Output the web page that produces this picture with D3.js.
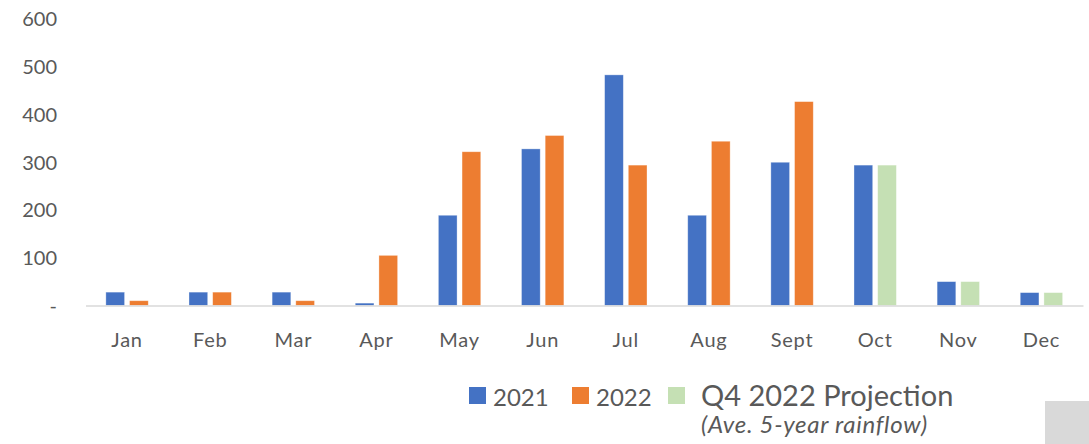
<!DOCTYPE html>
<html>
<head>
<meta charset="utf-8">
<script src="https://cdn.jsdelivr.net/npm/d3@7"></script>
<style>
  html, body { margin: 0; padding: 0; background: #fff; }
  svg { display: block; font-family: "Source Sans Pro", Lato, "Open Sans", sans-serif; }
</style>
</head>
<body>
<svg id="chart" width="1089" height="444"></svg>
<script>
const months = ["Jan","Feb","Mar","Apr","May","Jun","Jul","Aug","Sept","Oct","Nov","Dec"];
const v2021 = [28, 28, 28, 5, 189, 328, 483, 189, 300, 294, 50, 27];
const v2022 = [10, 28, 10, 105, 322, 356, 294, 344, 427, null, null, null];
const projection = [null, null, null, null, null, null, null, null, null, 294, 50, 27];
const yTicks = [0, 100, 200, 300, 400, 500, 600];
const yTickLabels = ["-", "100", "200", "300", "400", "500", "600"];
const legendItems = [
  { key: "2021", color: "#4472C4" },
  { key: "2022", color: "#ED7D31" },
  { key: "Q4 2022 Projection", color: "#C5E0B4" }
];
const legendNote = "(Ave. 5-year rainflow)";

const colors = { "2021": "#4472C4", "2022": "#ED7D31", "proj": "#C5E0B4" };
const textColor = "#595959";

const svg = d3.select("#chart");

const x0 = d3.scaleBand().domain(months).range([85.5, 1083]).paddingInner(0.49).paddingOuter(0.245);
const x1 = d3.scaleBand().domain([0, 1]).range([0, x0.bandwidth()]).paddingInner(0.21);
const y = d3.scaleLinear().domain([0, 600]).range([305.5, 19]);

// Y axis labels
const yAxis = d3.axisLeft(y).tickValues(yTicks).tickSize(0).tickPadding(0)
  .tickFormat((d, i) => yTickLabels[i]);
const yg = svg.append("g").attr("transform", "translate(57,0.5)").call(yAxis);
yg.select(".domain").remove();
yg.selectAll("text").attr("fill", textColor).style("font-size", "20px")
  .style("font-family", "Lato, sans-serif");

// Bars
const rows = months.map((m, i) => ({
  month: m,
  bars: [
    { slot: 0, value: v2021[i], color: colors["2021"] },
    projection[i] != null
      ? { slot: 1, value: projection[i], color: colors.proj }
      : { slot: 1, value: v2022[i], color: colors["2022"] }
  ].filter(b => b.value != null)
}));

const groups = svg.append("g").selectAll("g").data(rows).join("g")
  .attr("transform", d => `translate(${x0(d.month)},0)`);
groups.selectAll("rect").data(d => d.bars).join("rect")
  .attr("x", d => x1(d.slot))
  .attr("width", x1.bandwidth())
  .attr("y", d => y(d.value))
  .attr("height", d => y(0) - y(d.value))
  .attr("fill", d => d.color)
  .attr("stroke", "#fff").attr("stroke-opacity", 0.45).attr("stroke-width", 0.75);

// X axis
const xAxis = d3.axisBottom(x0).tickSize(0).tickPadding(0);
const xg = svg.append("g").attr("transform", `translate(0,${y(0)})`).call(xAxis);
xg.select(".domain").attr("stroke", "#d9d9d9").attr("stroke-width", 1.6);
xg.selectAll("text").attr("fill", textColor).attr("dy", null).attr("y", 41)
  .style("font-size", "20px").style("letter-spacing", "0.8px")
  .style("font-family", "Lato, sans-serif");

// Legend
const leg = svg.append("g");
const legX = [469, 572, 668];
const legText = [493, 596, 701];
legendItems.forEach((it, i) => {
  leg.append("rect").attr("x", legX[i]).attr("y", 387).attr("width", 17).attr("height", 17).attr("fill", it.color);
  leg.append("text").attr("x", legText[i]).attr("y", 405.5)
    .attr("fill", textColor)
    .style("font-family", "Lato, sans-serif")
    .style("font-size", i === 2 ? "29px" : "24px")
    .text(it.key);
});
leg.append("text").attr("x", 701).attr("y", 433)
  .attr("fill", textColor)
  .style("font-family", "Lato, sans-serif")
  .style("font-style", "italic")
  .style("font-size", "24px")
  .style("letter-spacing", "0.7px")
  .text(legendNote);

// Gray corner box
svg.append("rect").attr("x", 1045).attr("y", 401).attr("width", 44).attr("height", 43).attr("fill", "#d9d9d9");
</script>
</body>
</html>
